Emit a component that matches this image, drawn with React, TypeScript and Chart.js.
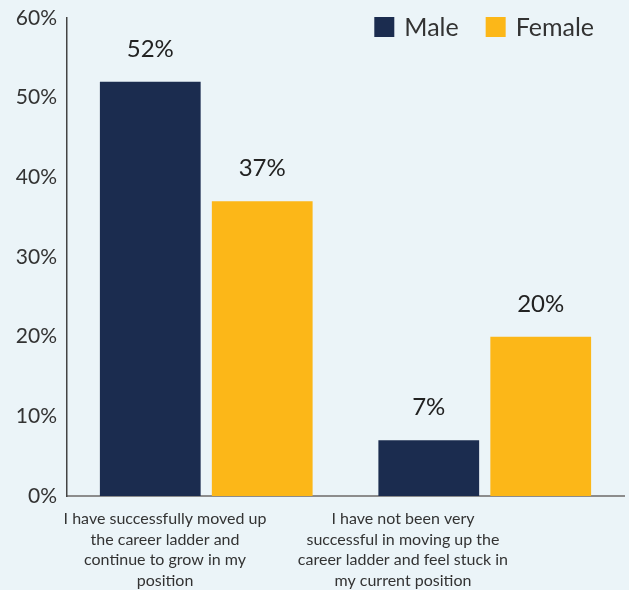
import React, { useEffect, useRef } from "react";
import { Chart, registerables } from "chart.js";

Chart.register(...registerables);

const categories: string[][] = [
  ["I have successfully moved up", "the career ladder and", "continue to grow in my", "position"],
  ["I have not been very", "successful in moving up the", "career ladder and feel stuck in", "my current position"],
];
const seriesNames = ["Male", "Female"];
const maleValues = [52, 7];
const femaleValues = [37, 20];
const yTicks = [0, 10, 20, 30, 40, 50, 60];

const NAVY = "#1b2c4f";
const GOLD = "#fcb718";
const FONT = "Lato, 'Noto Sans', sans-serif";

const valueLabels = {
  id: "valueLabels",
  afterDatasetsDraw(chart: any) {
    const ctx = chart.ctx;
    ctx.save();
    ctx.font = `24px ${FONT}`;
    ctx.fillStyle = "#222";
    ctx.textAlign = "center";
    ctx.textBaseline = "alphabetic";
    chart.data.datasets.forEach((ds: any, i: number) => {
      const meta = chart.getDatasetMeta(i);
      meta.data.forEach((bar: any, j: number) => {
        ctx.fillText(`${ds.data[j]}%`, bar.x, bar.y - 25);
      });
    });
    ctx.restore();
  },
};

const topLegend = {
  id: "topLegend",
  afterDraw(chart: any) {
    const ctx = chart.ctx;
    const area = chart.chartArea;
    ctx.save();
    ctx.font = `25px ${FONT}`;
    ctx.textBaseline = "middle";
    ctx.textAlign = "left";
    const box = 20;
    const gapBoxText = 10;
    const gapItems = 27;
    const items = chart.data.datasets.map((ds: any) => ({
      label: ds.label,
      color: ds.backgroundColor,
      w: box + gapBoxText + ctx.measureText(ds.label).width,
    }));
    const total = items.reduce((s: number, it: any) => s + it.w, 0) + gapItems * (items.length - 1);
    let x = area.right - 30 - total;
    const cy = area.top + 9;
    items.forEach((it: any) => {
      ctx.fillStyle = it.color;
      ctx.fillRect(x, cy - box / 2, box, box);
      ctx.fillStyle = "#333";
      ctx.fillText(it.label, x + box + gapBoxText, cy + 1);
      x += it.w + gapItems;
    });
    ctx.restore();
  },
};

export default function App() {
  const ref = useRef<HTMLCanvasElement>(null);
  useEffect(() => {
    document.body.style.margin = "0";
    document.body.style.background = "#ebf4f8";
    if (!ref.current) return;
    const chart = new Chart(ref.current, {
      type: "bar",
      data: {
        labels: categories.map((c) => c.join(" ")),
        datasets: [
          { label: seriesNames[0], data: maleValues, backgroundColor: NAVY, categoryPercentage: 0.804, barPercentage: 0.9 },
          { label: seriesNames[1], data: femaleValues, backgroundColor: GOLD, categoryPercentage: 0.804, barPercentage: 0.9 },
        ],
      },
      options: {
        animation: false,
        responsive: false,
        maintainAspectRatio: false,
        layout: { padding: { top: 18, right: 5, left: 0, bottom: 0 } },
        plugins: { legend: { display: false }, tooltip: { enabled: false } },
        scales: {
          x: { display: false },
          xl: {
            type: "linear",
            position: "bottom",
            offset: false,
            min: -0.412,
            max: 1.929,
            afterBuildTicks: (scale: any) => {
              scale.ticks = categories.map((_, i) => ({ value: i }));
            },
            afterFit: (scale: any) => {
              scale.height = 94;
              scale.paddingLeft = 0;
              scale.paddingRight = 0;
            },
            grid: { display: false, drawTicks: false, offset: false },
            border: { display: true, color: "#8c8c8c", width: 2 },
            ticks: {
              autoSkip: false,
              maxRotation: 0,
              padding: 13,
              color: "#333",
              font: { family: FONT, size: 16, lineHeight: 1.28 },
              callback: (v: any) => categories[Number(v)] ?? "",
            },
          },
          y: {
            min: 0,
            max: 60,
            afterBuildTicks: (scale: any) => {
              scale.ticks = yTicks.map((v) => ({ value: v }));
            },
            afterFit: (scale: any) => {
              scale.width = 67;
              scale.paddingTop = 0;
              scale.paddingBottom = 0;
            },
            grid: { display: false, drawTicks: false },
            border: { display: true, color: "#444", width: 1.5 },
            ticks: {
              padding: 10,
              color: "#333",
              font: { family: FONT, size: 21 },
              callback: (v: any) => `${v}%`,
            },
          },
        },
      },
      plugins: [valueLabels, topLegend],
    } as any);
    return () => chart.destroy();
  }, []);
  return <canvas ref={ref} width={629} height={590} style={{ display: "block" }} />;
}
